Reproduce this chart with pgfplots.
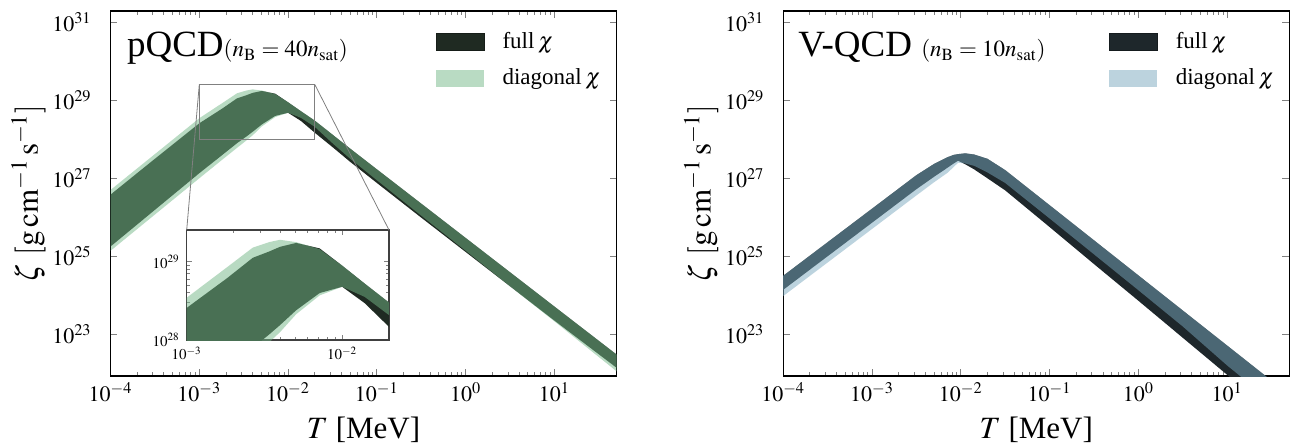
\documentclass[border=0pt]{standalone}
\usepackage{mathptmx}
\usepackage{fontspec}
\setmainfont{Liberation Serif}
\usepackage{pgfplots}
\pgfplotsset{compat=1.18}
\usepackage{pgfplotstable}
\usepgfplotslibrary{fillbetween}

\definecolor{pdark}{RGB}{31,42,34}
\definecolor{plight}{RGB}{115,183,135}
\definecolor{vdark}{RGB}{30,39,43}
\definecolor{vlight}{RGB}{121,167,189}

% log10 T, log10 zeta: upper/lower of full band, upper/lower of diagonal band
\pgfplotstableread{
lt uf lf ud ld
-4.0 26.58 25.25 26.70 25.14
-3.5 27.50 26.19 27.62 26.07
-3.0 28.41 27.13 28.54 27.00
-2.74 28.79 27.60 28.93 27.48
-2.575 29.05 27.90 29.18 27.78
-2.47 29.13 28.07 29.25 27.97
-2.40 29.19 28.19 29.28 28.10
-2.296 29.24 28.38 29.25 28.33
-2.145 29.17 28.60 29.16 28.57
-2.0 28.95 28.68 28.95 28.68
-1.855 28.72 28.47 28.72 28.55
-1.70 28.48 28.17 28.48 28.32
-1.5 28.12 27.80 28.12 27.90
-1.3 27.76 27.42 27.76 27.50
-1.0 27.23 26.88 27.23 26.95
-0.5 26.35 25.99 26.35 26.04
0.0 25.47 25.11 25.47 25.14
0.5 24.59 24.23 24.59 24.23
1.0 23.71 23.35 23.71 23.33
1.7 22.48 22.14 22.48 22.05
}\pqcd

\pgfplotstableread{
lt uf lf ud ld
-4.0 24.50 24.14 24.50 23.98
-3.5 25.36 25.00 25.36 24.84
-3.0 26.22 25.86 26.22 25.70
-2.5 27.08 26.72 27.08 26.56
-2.3 27.37 27.04 27.37 26.90
-2.15 27.54 27.27 27.54 27.14
-2.08 27.60 27.38 27.60 27.29
-2.03 27.62 27.45 27.62 27.40
-1.95 27.64 27.36 27.64 27.38
-1.85 27.61 27.23 27.61 27.32
-1.7 27.50 27.00 27.50 27.15
-1.5 27.21 26.69 27.21 26.88
-1.0 26.31 25.75 26.31 25.97
-0.5 25.41 24.80 25.41 25.05
0.0 24.51 23.86 24.51 24.13
0.5 23.61 22.91 23.61 23.20
1.0 22.71 21.96 22.71 22.20
1.7 21.45 20.64 21.45 20.90
}\vqcd

\begin{document}
\begin{tikzpicture}
% ---------------- left panel: pQCD ----------------
\begin{axis}[name=L, at={(0pt,0pt)}, anchor=south west,
    scale only axis, width=253pt, height=182.5pt,
    xmode=log, ymode=log,
    xmin=1e-4, xmax=50, ymin=8.5e21, ymax=1.95e31,
    xtick={1e-4,1e-3,1e-2,1e-1,1,10},
    ytick={1e23,1e25,1e27,1e29,1e31},
    yminorticks=false,
    tick align=inside,
    major tick length=3.5pt, minor tick length=2pt,
    axis line style={line width=0.7pt},
    tick style={line width=0.5pt},
    tick label style={font=\fontsize{11}{12}\selectfont},
    xticklabel style={anchor=base, yshift=-12.6pt},
    yticklabel style={anchor=east, inner sep=0pt, xshift=-9.25pt},
    every axis x label/.style={at={(rel axis cs:0.5,0)}, anchor=base, yshift=-31.3pt},
    every axis y label/.style={at={(rel axis cs:0,0.5)}, xshift=-41pt, rotate=90, anchor=center},
    label style={font=\fontsize{15.5}{17}\selectfont},
    xlabel={$T$ [MeV]},
    ylabel={$\zeta\ [\mathrm{g\,cm^{-1}\,s^{-1}}]$},
    legend image code/.code={\path[#1] (0pt,-4.25pt) rectangle (24pt,4.25pt);},
    legend style={draw=none, fill=none, at={(0.642,0.955)}, anchor=north west,
      inner sep=0pt, row sep=5pt, font=\fontsize{11.5}{13}\selectfont,
      /tikz/every odd column/.append style={column sep=7pt}},
    legend cell align=left]
  \addplot[draw=none, name path=pfu, forget plot] table[x expr={10^(\thisrow{lt})}, y expr={10^(\thisrow{uf})}] {\pqcd};
  \addplot[draw=none, name path=pfl, forget plot] table[x expr={10^(\thisrow{lt})}, y expr={10^(\thisrow{lf})}] {\pqcd};
  \addplot[draw=none, name path=pdu, forget plot] table[x expr={10^(\thisrow{lt})}, y expr={10^(\thisrow{ud})}] {\pqcd};
  \addplot[draw=none, name path=pdl, forget plot] table[x expr={10^(\thisrow{lt})}, y expr={10^(\thisrow{ld})}] {\pqcd};
  \addplot[fill=pdark, draw=none, forget plot] fill between[of=pfu and pfl];
  \addplot[fill=plight, fill opacity=0.5, draw=none, forget plot] fill between[of=pdu and pdl];
  \addlegendimage{fill=pdark, draw=pdark!70!black, line width=0.4pt}
  \addlegendentry{full\,$\chi$}
  \addlegendimage{fill=plight, fill opacity=0.5, draw=none}
  \addlegendentry{diagonal\,$\chi$}
  \draw[black!50, line width=0.5pt] (axis cs:1e-3,1e28) rectangle (axis cs:2e-2,2.54e29);
  \coordinate (zl) at (axis cs:1e-3,2.54e29);
  \coordinate (zr) at (axis cs:2e-2,2.54e29);
  \node[anchor=base west, inner sep=0pt] at (rel axis cs:0.032,0.875)
    {\fontsize{18.5}{20}\selectfont pQCD{\fontsize{11.5}{13}\selectfont$(n_{\mathrm{B}}=40n_{\mathrm{sat}})$}};
\end{axis}
% ---------------- inset ----------------
\begin{axis}[name=inset, at={(38.1pt,18pt)}, anchor=south west,
    scale only axis, width=101.15pt, height=55pt,
    xmode=log, ymode=log, xmin=1e-3, xmax=2e-2, ymin=1e28, ymax=2.54e29,
    xtick={1e-3,1e-2}, ytick={1e28,1e29},
    tick align=inside, major tick length=2.5pt, minor tick length=1.5pt,
    tick style={line width=0.4pt},
    axis line style={black!75, line width=0.6pt},
    axis background/.style={fill=white},
    tick label style={font=\fontsize{7.5}{8}\selectfont}]
  \addplot[draw=none, name path=ifu] table[x expr={10^(\thisrow{lt})}, y expr={10^(\thisrow{uf})}] {\pqcd};
  \addplot[draw=none, name path=ifl] table[x expr={10^(\thisrow{lt})}, y expr={10^(\thisrow{lf})}] {\pqcd};
  \addplot[draw=none, name path=idu] table[x expr={10^(\thisrow{lt})}, y expr={10^(\thisrow{ud})}] {\pqcd};
  \addplot[draw=none, name path=idl] table[x expr={10^(\thisrow{lt})}, y expr={10^(\thisrow{ld})}] {\pqcd};
  \addplot[fill=pdark, draw=none] fill between[of=ifu and ifl];
  \addplot[fill=plight, fill opacity=0.5, draw=none] fill between[of=idu and idl];
\end{axis}
\draw[black!50, line width=0.4pt] (zl) -- (inset.north west);
\draw[black!50, line width=0.4pt] (zr) -- (inset.north east);
% ---------------- right panel: V-QCD ----------------
\begin{axis}[name=R, at={(336.35pt,0pt)}, anchor=south west,
    scale only axis, width=253pt, height=182.5pt,
    xmode=log, ymode=log,
    xmin=1e-4, xmax=50, ymin=8.5e21, ymax=1.95e31,
    xtick={1e-4,1e-3,1e-2,1e-1,1,10},
    ytick={1e23,1e25,1e27,1e29,1e31},
    yminorticks=false,
    tick align=inside,
    major tick length=3.5pt, minor tick length=2pt,
    axis line style={line width=0.7pt},
    tick style={line width=0.5pt},
    tick label style={font=\fontsize{11}{12}\selectfont},
    xticklabel style={anchor=base, yshift=-12.6pt},
    yticklabel style={anchor=east, inner sep=0pt, xshift=-9.25pt},
    every axis x label/.style={at={(rel axis cs:0.5,0)}, anchor=base, yshift=-31.3pt},
    every axis y label/.style={at={(rel axis cs:0,0.5)}, xshift=-41pt, rotate=90, anchor=center},
    label style={font=\fontsize{15.5}{17}\selectfont},
    xlabel={$T$ [MeV]},
    ylabel={$\zeta\ [\mathrm{g\,cm^{-1}\,s^{-1}}]$},
    legend image code/.code={\path[#1] (0pt,-4.25pt) rectangle (24pt,4.25pt);},
    legend style={draw=none, fill=none, at={(0.643,0.955)}, anchor=north west,
      inner sep=0pt, row sep=5pt, font=\fontsize{11.5}{13}\selectfont,
      /tikz/every odd column/.append style={column sep=7pt}},
    legend cell align=left]
  \addplot[draw=none, name path=vfu, forget plot] table[x expr={10^(\thisrow{lt})}, y expr={10^(\thisrow{uf})}] {\vqcd};
  \addplot[draw=none, name path=vfl, forget plot] table[x expr={10^(\thisrow{lt})}, y expr={10^(\thisrow{lf})}] {\vqcd};
  \addplot[draw=none, name path=vdu, forget plot] table[x expr={10^(\thisrow{lt})}, y expr={10^(\thisrow{ud})}] {\vqcd};
  \addplot[draw=none, name path=vdl, forget plot] table[x expr={10^(\thisrow{lt})}, y expr={10^(\thisrow{ld})}] {\vqcd};
  \addplot[fill=vdark, draw=none, forget plot] fill between[of=vfu and vfl];
  \addplot[fill=vlight, fill opacity=0.5, draw=none, forget plot] fill between[of=vdu and vdl];
  \addlegendimage{fill=vdark, draw=vdark!70!black, line width=0.4pt}
  \addlegendentry{full\,$\chi$}
  \addlegendimage{fill=vlight, fill opacity=0.5, draw=none}
  \addlegendentry{diagonal\,$\chi$}
  \node[anchor=base west, inner sep=0pt] at (rel axis cs:0.029,0.875)
    {\fontsize{18.5}{20}\selectfont V-QCD {\fontsize{11.5}{13}\selectfont$(n_{\mathrm{B}}=10n_{\mathrm{sat}})$}};
\end{axis}
\pgfresetboundingbox
\useasboundingbox (-55.25pt,-34.5pt) rectangle (591.25pt,188pt);
\end{tikzpicture}
\end{document}
